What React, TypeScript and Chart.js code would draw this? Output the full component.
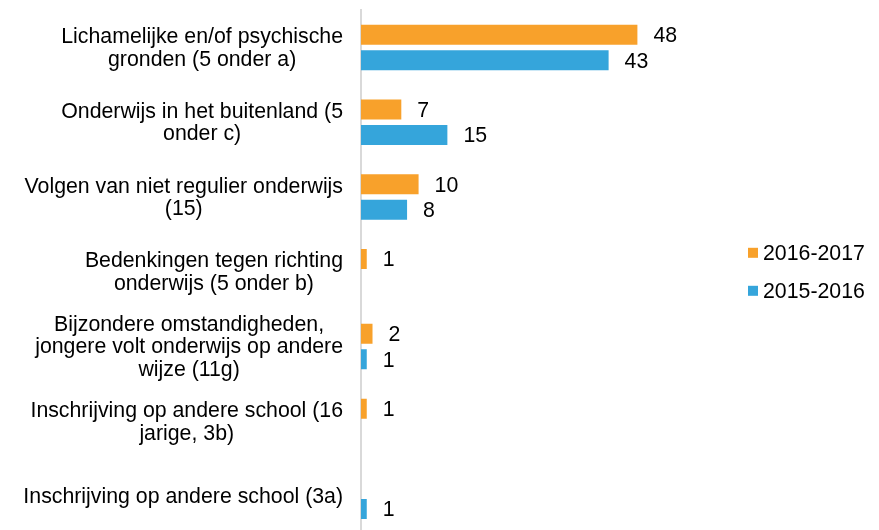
import React, { useEffect, useRef } from "react";
import { Chart, registerables } from "chart.js";

Chart.register(...registerables);

const categories: string[][] = [
  ["Lichamelijke en/of psychische", "gronden (5 onder a)"],
  ["Onderwijs in het buitenland (5", "onder c)"],
  ["Volgen van niet regulier onderwijs", "(15)"],
  ["Bedenkingen tegen richting", "onderwijs (5 onder b)"],
  ["Bijzondere omstandigheden,", "jongere volt onderwijs op andere", "wijze (11g)"],
  ["Inschrijving op andere school (16", "jarige, 3b)"],
  ["Inschrijving op andere school (3a)"],
];

const series2016_2017: (number | null)[] = [48, 7, 10, 1, 2, 1, null];
const series2015_2016: (number | null)[] = [43, 15, 8, null, 1, null, 1];

const seriesLabels = ["2016-2017", "2015-2016"];
const seriesColors = ["#F8A12B", "#35A5DB"];

const FONT = '"Liberation Sans", Arial, sans-serif';
const FONT_SIZE = 21.3;

const categoryLabelPlugin = {
  id: "categoryLabels",
  afterDraw(chart: any) {
    const ctx = chart.ctx;
    const yScale = chart.scales.y;
    const right = 343;
    const lh = 22.5;
    ctx.save();
    ctx.font = `${FONT_SIZE}px ${FONT}`;
    ctx.fillStyle = "#000";
    ctx.textAlign = "center";
    ctx.textBaseline = "middle";
    categories.forEach((lines, i) => {
      const yc = yScale.getPixelForValue(i) + 1;
      const w = Math.max(...lines.map((l) => ctx.measureText(l).width));
      const cx = right - w / 2;
      const n = lines.length;
      lines.forEach((line, j) => {
        ctx.fillText(line, cx, yc + (j - (n - 1) / 2) * lh);
      });
    });
    ctx.restore();
  },
};

const valueLabelPlugin = {
  id: "valueLabels",
  afterDatasetsDraw(chart: any) {
    const ctx = chart.ctx;
    ctx.save();
    ctx.font = `${FONT_SIZE}px ${FONT}`;
    ctx.fillStyle = "#000";
    ctx.textAlign = "left";
    ctx.textBaseline = "middle";
    chart.data.datasets.forEach((ds: any, di: number) => {
      const meta = chart.getDatasetMeta(di);
      meta.data.forEach((bar: any, i: number) => {
        const v = ds.data[i];
        if (v === null || v === undefined) return;
        ctx.fillText(String(v), bar.x + 16, bar.y + 1.5);
      });
    });
    ctx.restore();
  },
};

const legendPlugin = {
  id: "customLegend",
  afterDraw(chart: any) {
    const ctx = chart.ctx;
    const area = chart.chartArea;
    const mid = (area.top + area.bottom) / 2;
    const gap = 38;
    const x = 748;
    ctx.save();
    ctx.font = `${FONT_SIZE}px ${FONT}`;
    ctx.textAlign = "left";
    ctx.textBaseline = "middle";
    chart.data.datasets.forEach((ds: any, i: number) => {
      const n = chart.data.datasets.length;
      const y = mid + (i - (n - 1) / 2) * gap;
      ctx.fillStyle = ds.backgroundColor;
      ctx.fillRect(x, y - 5, 10, 10);
      ctx.fillStyle = "#000";
      ctx.fillText(ds.label, x + 15, y + 1);
    });
    ctx.restore();
  },
};

export default function App() {
  const ref = useRef<HTMLCanvasElement>(null);
  useEffect(() => {
    document.documentElement.style.overflow = "hidden";
    document.body.style.overflow = "hidden";
    const canvas = ref.current!;
    const chart = new Chart(canvas, {
      type: "bar",
      data: {
        labels: categories.map((c) => c.join(" ")),
        datasets: [
          {
            label: seriesLabels[0],
            data: series2016_2017,
            backgroundColor: seriesColors[0],
            categoryPercentage: 0.682,
            barPercentage: 0.784,
          },
          {
            label: seriesLabels[1],
            data: series2015_2016,
            backgroundColor: seriesColors[1],
            categoryPercentage: 0.682,
            barPercentage: 0.784,
          },
        ] as any,
      },
      options: {
        indexAxis: "y",
        animation: false,
        responsive: false,
        devicePixelRatio: 1,
        layout: { padding: { left: 0, right: 172.5, top: 10, bottom: 6.4 } },
        plugins: { legend: { display: false }, tooltip: { enabled: false } },
        scales: {
          x: { display: false, min: 0, max: 60 },
          y: {
            display: true,
            grid: { display: false, drawTicks: false },
            border: { display: true, color: "#d9d9d9", width: 2 },
            ticks: { display: false },
            afterFit: (scale: any) => {
              scale.width = 361;
            },
          },
        },
      } as any,
      plugins: [categoryLabelPlugin, valueLabelPlugin, legendPlugin],
    });
    return () => chart.destroy();
  }, []);
  return (
    <div style={{ position: "fixed", top: 0, left: 0, width: 879, height: 540, background: "#fff" }}>
      <canvas ref={ref} width={879} height={540} style={{ display: "block" }} />
    </div>
  );
}
